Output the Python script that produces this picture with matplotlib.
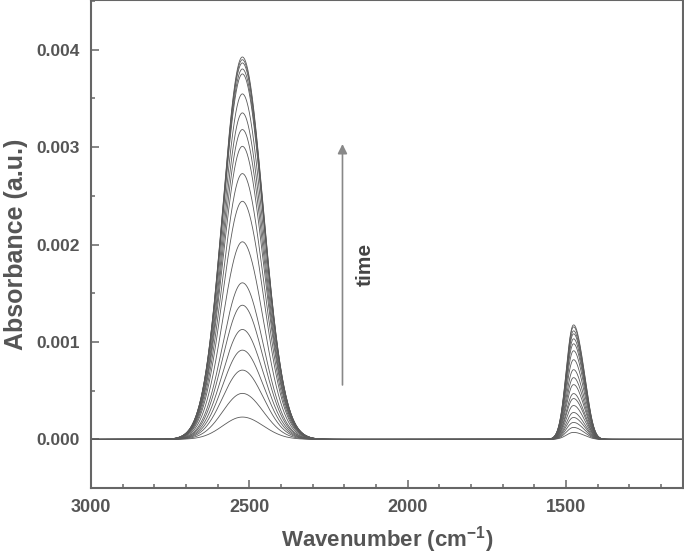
import numpy as np
import matplotlib
matplotlib.use("Agg")
import matplotlib.pyplot as plt
from matplotlib.ticker import MultipleLocator

# peak heights, one value per spectrum (early -> late)
band1_height = [0.000229, 0.000472, 0.000711, 0.000916, 0.001128, 0.001377,
                0.001607, 0.002028, 0.002444, 0.002728, 0.003008, 0.00318,
                0.003351, 0.003546, 0.003751, 0.003802, 0.003864, 0.003897,
                0.003925]
band2_height = [0.00007, 0.00012, 0.00017, 0.00022, 0.00027, 0.00034,
                0.00041, 0.00046, 0.00055, 0.00062, 0.0007, 0.0008,
                0.00089, 0.00096, 0.00101, 0.00106, 0.00109, 0.00113,
                0.00115]

# band positions / widths (cm-1)
band1_center = 2522
band1_sigma = [62, 66]      # left (high wn), right (low wn)
band2_center = 1478
band2_sigma = [22, 27]
shoulder_center = 1440
shoulder_frac = 0.18

wn = np.linspace(3000, 1130, 1400)


def band(x, c, s_hi, s_lo):
    s = np.where(x >= c, s_hi, s_lo)
    return np.exp(-0.5 * ((x - c) / s) ** 2)


plt.rcParams['font.family'] = ['Liberation Sans', 'DejaVu Sans']
plt.rcParams['font.weight'] = 'bold'
plt.rcParams['mathtext.fontset'] = 'custom'
plt.rcParams['mathtext.rm'] = 'Liberation Sans:bold'
plt.rcParams['mathtext.bf'] = 'Liberation Sans:bold'
grey = '#555555'

fig = plt.figure(figsize=(6.84, 5.54), dpi=100)
ax = fig.add_axes([0.133, 0.119, 0.866, 0.881])

for h1, h2 in zip(band1_height, band2_height):
    y = (h1 * band(wn, band1_center, *band1_sigma)
         + h2 * band(wn, band2_center, *band2_sigma)
         + h2 * shoulder_frac * band(wn, shoulder_center, 18, 18))
    ax.plot(wn, y, color='#5a5a5a', lw=0.6)

ax.set_xlim(3000, 1130)
ax.set_ylim(-0.0005, 0.00451)

# time arrow
ax.annotate('', xy=(2206, 0.00306), xytext=(2206, 0.00053),
            arrowprops=dict(arrowstyle='-|>', color='#888888', lw=1.2,
                            mutation_scale=14))
ax.text(2133, 0.0018, 'time', rotation=90, ha='center', va='center',
        fontsize=15, color='#444444', fontweight='bold')

ax.xaxis.set_major_locator(MultipleLocator(500))
ax.xaxis.set_minor_locator(MultipleLocator(100))
ax.yaxis.set_major_locator(MultipleLocator(0.001))
ax.yaxis.set_minor_locator(MultipleLocator(0.0005))
ax.yaxis.set_major_formatter(matplotlib.ticker.FormatStrFormatter('%.3f'))

ax.tick_params(which='both', direction='in', color='#666666',
               labelcolor=grey, labelsize=12.5, width=1.1)
ax.tick_params(axis='x', labelsize=13)
ax.tick_params(which='major', length=6, pad=8)
ax.tick_params(which='minor', length=3)
for sp in ax.spines.values():
    sp.set_color('#666666')
    sp.set_linewidth(1.5)

ax.set_xlabel('Wavenumber (cm$^{\\mathregular{-1}}$)', fontsize=16,
              color=grey, fontweight='bold', labelpad=6)
ax.set_ylabel('Absorbance (a.u.)', fontsize=18, color=grey,
              fontweight='bold', labelpad=6)

fig.savefig('out.png', dpi=100)
